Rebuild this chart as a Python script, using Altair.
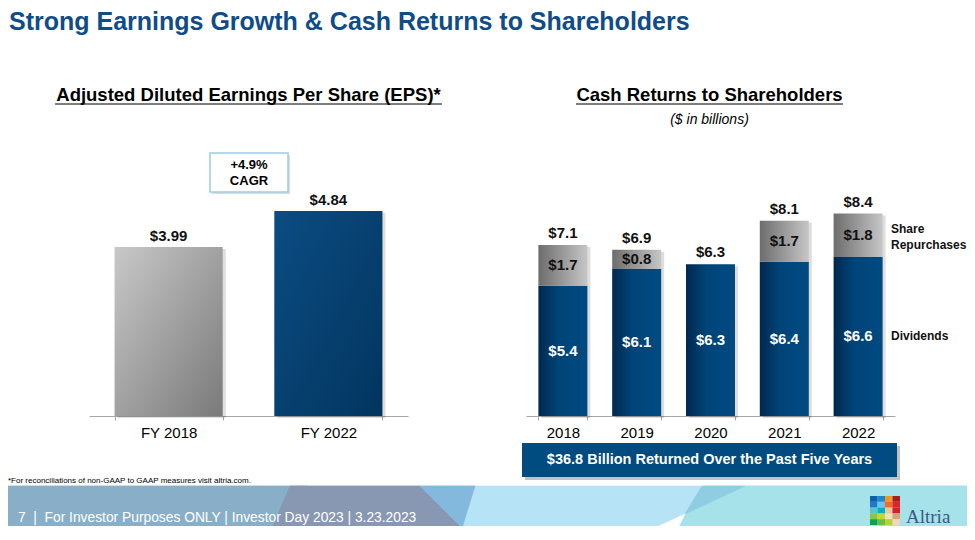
import altair as alt
import pandas as pd

W, H = 959, 518
FONT = "Liberation Sans, Arial, Helvetica, sans-serif"
SERIF = "Liberation Serif, Times New Roman, serif"

# ---------------- data ----------------
eps_years = ["FY 2018", "FY 2022"]
eps_values = [3.99, 4.84]
cagr_text = ["+4.9%", "CAGR"]

cash_years = ["2018", "2019", "2020", "2021", "2022"]
dividends = [5.4, 6.1, 6.3, 6.4, 6.6]
repurchases = [1.7, 0.8, 0.0, 1.7, 1.8]
totals = [7.1, 6.9, 6.3, 8.1, 8.4]
series_labels = ["Share\nRepurchases", "Dividends"]

title_text = "Strong Earnings Growth & Cash Returns to Shareholders"
left_title = "Adjusted Diluted Earnings Per Share (EPS)*"
right_title = "Cash Returns to Shareholders"
right_sub = "($ in billions)"
footnote = "*For reconciliations of non-GAAP to GAAP measures visit altria.com."
footer_text = "7\u00a0 |\u00a0 For Investor Purposes ONLY | Investor Day 2023 | 3.23.2023"
brand = "Altria"

logo_colors = [
    "#0d5ea8", "#1c87d0", "#f7941d", "#a41e22",
    "#1f78c8", "#6cc3ee", "#f26b21", "#e02127",
    "#5bc4c9", "#00b2c6", "#e8c9a0", "#d4202a",
    "#8cc63f", "#c4d82e", "#f3e0c0", "#d8a56e",
    "#00a94f", "#6abd45", "#b5d334", "#f0d9b5",
]

# decorative footer band shapes (pixel space)
footer_shapes = [
    ([(0, 478), (W, 478), (W, H), (0, H)], "#b6e3f5"),
    ([(0, 478), (300, 478), (300, H), (0, H)], "#89afc8"),
    ([(282, 478), (412, 478), (454, 520), (264, 520)], "#8897b2"),
    ([(412, 478), (467, 478), (454, 520)], "#82b9dd"),
    ([(737, 478), (W, 478), (W, H), (671, H), (677, 506)], "#a6e2e9"),
    ([(694, 478), (737, 478), (677, 506)], "#8ecde2"),
    ([(677, 506), (671, H), (651, H)], "#ffffff"),
]


def txt(text, x, y, size, color="#000000", weight="normal", align="left",
        baseline="alphabetic", font=FONT, style="normal"):
    return alt.Chart(pd.DataFrame({"t": [text]})).mark_text(
        fontSize=size, color=color, fontWeight=weight, align=align,
        baseline=baseline, font=font, fontStyle=style,
    ).encode(x=alt.value(x), y=alt.value(y), text="t:N")


def box(x, x2, y, y2, **kw):
    return alt.Chart(pd.DataFrame({"a": [0]})).mark_rect(**kw).encode(
        x=alt.value(x), x2=alt.value(x2), y=alt.value(y), y2=alt.value(y2))


def hline(x, x2, y, color="#000000", width=1.2):
    return alt.Chart(pd.DataFrame({"a": [0]})).mark_rule(color=color, strokeWidth=width).encode(
        x=alt.value(x), x2=alt.value(x2), y=alt.value(y))


def grad(c0, c1, x2=1, y2=1, mid=None):
    stops = [alt.GradientStop(color=c0, offset=0)]
    if mid:
        stops.append(alt.GradientStop(color=mid[0], offset=mid[1]))
    stops.append(alt.GradientStop(color=c1, offset=1))
    return alt.Gradient(gradient="linear", stops=stops, x1=0, y1=0, x2=x2, y2=y2)


axis_style = dict(
    title=None, orient="bottom", offset=408 - H, tickBand="extent",
    domainColor="#a6a6a6", tickColor="#a6a6a6", tickSize=4, domainWidth=1,
    tickWidth=1, labelFont=FONT, labelFontSize=15, labelColor="#000000",
    labelPadding=5, grid=False, labelAngle=0,
)

# ---------------- left chart: EPS ----------------
eps_df = pd.DataFrame({"year": eps_years, "eps": eps_values})
x_eps = alt.X("year:N", scale=alt.Scale(domain=eps_years, range=[81, 400],
                                        paddingInner=0.323, paddingOuter=0.16),
              axis=alt.Axis(**axis_style))
y_eps_scale = alt.Scale(domain=[0, 5], range=[408, 408 - 5 * 42.36], nice=False)
y_eps = alt.Y("eps:Q", scale=y_eps_scale, axis=None)

eps_base = alt.Chart(eps_df)
eps_shadow = eps_base.mark_bar(color="#000000", opacity=0.13, xOffset=3, yOffset=2).encode(x=x_eps, y=y_eps)
eps_bar0 = eps_base.transform_filter(alt.datum.year == eps_years[0]).mark_bar(
    color=grad("#c8c8c8", "#7a7a7a")).encode(x=x_eps, y=y_eps)
eps_bar1 = eps_base.transform_filter(alt.datum.year == eps_years[1]).mark_bar(
    color=grad("#0b4c82", "#02355f")).encode(x=x_eps, y=y_eps)
eps_lbl = eps_base.mark_text(fontSize=15, fontWeight="bold", font=FONT, color="#111111",
                             baseline="alphabetic", dy=-6).encode(
    x=x_eps, y=y_eps, text=alt.Text("eps:Q", format="$.2f"))
left = alt.layer(eps_shadow, eps_bar0, eps_bar1, eps_lbl)

# ---------------- right chart: cash returns ----------------
cash_df = pd.DataFrame({"year": cash_years, "dividends": dividends,
                        "repurchases": repurchases, "total": totals})
x_cash = alt.X("year:N", scale=alt.Scale(domain=cash_years, range=[518, 887],
                                         paddingInner=0.336, paddingOuter=0.168),
               axis=alt.Axis(**axis_style))
y_cash_scale = alt.Scale(domain=[0, 10], range=[408, 408 - 241], nice=False)

cash_base = alt.Chart(cash_df).transform_calculate(
    mid_div="datum.dividends / 2",
    mid_rep="datum.dividends + datum.repurchases / 2",
)
cash_shadow = cash_base.mark_bar(color="#000000", opacity=0.13, xOffset=3, yOffset=2).encode(
    x=x_cash, y=alt.Y("total:Q", scale=y_cash_scale, axis=None))
div_bar = cash_base.mark_bar(color=grad("#00284d", "#004b82", x2=1, y2=0, mid=("#004478", 0.4))).encode(
    x=x_cash, y=alt.Y("dividends:Q", scale=y_cash_scale, axis=None))
rep_bar = cash_base.transform_filter(alt.datum.repurchases > 0).mark_bar(
    color=grad("#6d6d6d", "#c6c6c6", x2=1, y2=0)).encode(
    x=x_cash, y=alt.Y("total:Q", scale=y_cash_scale, axis=None), y2="dividends:Q")
div_lbl = cash_base.mark_text(fontSize=15, fontWeight="bold", font=FONT, color="#ffffff",
                              baseline="middle").encode(
    x=x_cash, y=alt.Y("mid_div:Q", scale=y_cash_scale, axis=None),
    text=alt.Text("dividends:Q", format="$.1f"))
rep_lbl = cash_base.transform_filter(alt.datum.repurchases > 0).mark_text(
    fontSize=15, fontWeight="bold", font=FONT, color="#111111", baseline="middle").encode(
    x=x_cash, y=alt.Y("mid_rep:Q", scale=y_cash_scale, axis=None),
    text=alt.Text("repurchases:Q", format="$.1f"))
tot_lbl = cash_base.mark_text(fontSize=15, fontWeight="bold", font=FONT, color="#111111",
                              baseline="alphabetic", dy=-7).encode(
    x=x_cash, y=alt.Y("total:Q", scale=y_cash_scale, axis=None),
    text=alt.Text("total:Q", format="$.1f"))
legend_df = pd.DataFrame({
    "label": series_labels,
    "pos": [dividends[-1] + repurchases[-1] / 2, dividends[-1] / 2],
})
legend_rep = alt.Chart(legend_df).transform_filter(alt.datum.label == series_labels[0]).mark_text(
    fontSize=12, fontWeight="bold", font=FONT, color="#111111", align="left",
    baseline="middle", lineBreak="\n", lineHeight=16, dy=-6).encode(
    x=alt.value(883), y=alt.Y("pos:Q", scale=y_cash_scale, axis=None), text="label:N")
legend_div = alt.Chart(legend_df).transform_filter(alt.datum.label == series_labels[1]).mark_text(
    fontSize=12, fontWeight="bold", font=FONT, color="#111111", align="left",
    baseline="middle", dy=0).encode(
    x=alt.value(883), y=alt.Y("pos:Q", scale=y_cash_scale, axis=None), text="label:N")
right = alt.layer(cash_shadow, div_bar, rep_bar, div_lbl, rep_lbl, tot_lbl, legend_rep, legend_div)

# ---------------- footer band ----------------
features = [
    {"type": "Feature", "properties": {"fill": f},
     "geometry": {"type": "Polygon", "coordinates": [[list(p) for p in pts] + [list(pts[0])]]}}
    for pts, f in footer_shapes
]
footer_geo = alt.Chart(alt.Data(values=features)).mark_geoshape(strokeWidth=0.6).encode(
    color=alt.Color("properties.fill:N", scale=None),
    stroke=alt.Stroke("properties.fill:N", scale=None),
).project(type="identity", scale=1, translate=[0, 0])

logo_df = pd.DataFrame({
    "col": [i % 4 for i in range(len(logo_colors))],
    "row": [i // 4 for i in range(len(logo_colors))],
    "c": logo_colors,
})
logo = alt.Chart(logo_df).mark_rect().encode(
    x=alt.X("col:O", scale=alt.Scale(range=[862, 892], paddingInner=0, paddingOuter=0), axis=None),
    y=alt.Y("row:O", scale=alt.Scale(range=[488, 517], paddingInner=0, paddingOuter=0), axis=None),
    color=alt.Color("c:N", scale=None),
)

total_sum = sum(totals)
banner = f"${total_sum:.1f} Billion Returned Over the Past Five Years"

chart = alt.layer(
    footer_geo,
    logo,
    txt(title_text, 1, 22, 25, color="#0f4c88", weight="bold"),
    txt(left_title, 240.5, 93, 18.5, weight="bold", align="center"),
    hline(47, 434, 96),
    txt(right_title, 701.5, 93, 18.5, weight="bold", align="center"),
    hline(568, 835, 96),
    txt(right_sub, 701.5, 116, 14, style="italic", align="center"),
    # CAGR box
    box(204, 282, 147, 186, color="#dddddd"),
    box(202, 280, 145, 184, fill="#ffffff", stroke="#9dcbe4", strokeWidth=1.5),
    txt(cagr_text[0], 241, 157, 13, weight="bold", align="center", baseline="middle"),
    txt(cagr_text[1], 241, 173, 13, weight="bold", align="center", baseline="middle"),
    left,
    right,
    # bottom banner
    box(517, 892, 438, 472, color="#9a9a9a", opacity=0.6),
    box(514, 889, 435, 469, color="#004b80"),
    txt(banner, 701.5, 452, 14.5, color="#ffffff", weight="bold", align="center", baseline="middle"),
    txt(footnote, 0, 475, 8),
    txt(footer_text, 10, 514, 13.8, color="#ffffff"),
    txt(brand, 898, 515, 19, color="#3a5a85", font=SERIF),
).resolve_scale(
    x="independent", y="independent", color="independent", stroke="independent"
).properties(
    width=W, height=H, padding=0, autosize="none", background="#ffffff"
).configure_view(strokeWidth=0)

chart.save("out.html", embed_options={"renderer": "svg", "actions": False})
